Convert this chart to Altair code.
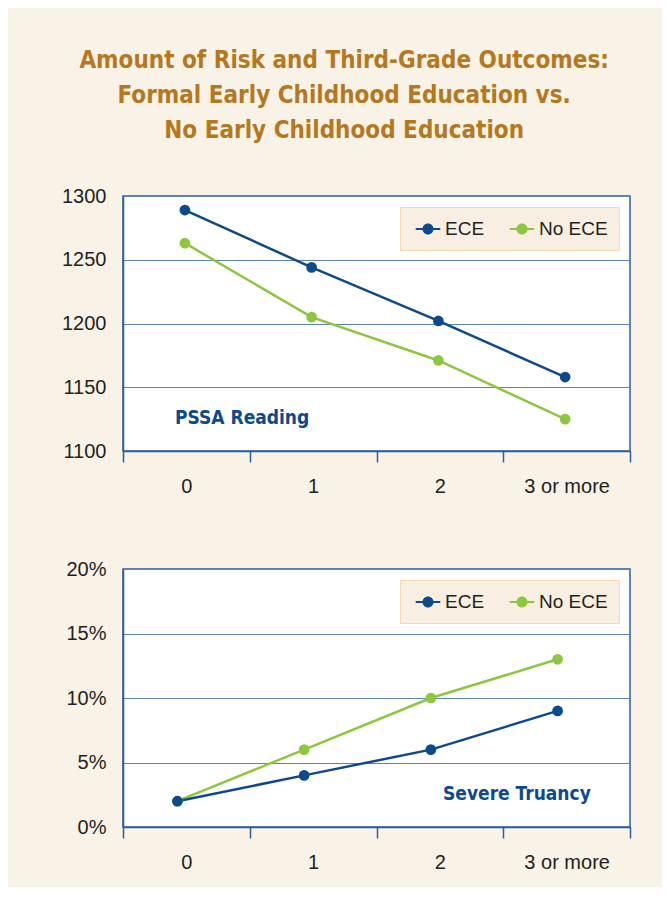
import altair as alt
import pandas as pd

categories = ["0", "1", "2", "3 or more"]
series = ["ECE", "No ECE"]
reading_ece = [1289, 1244, 1202, 1158]
reading_no_ece = [1263, 1205, 1171, 1125]
truancy_ece = [2, 4, 6, 9]
truancy_no_ece = [2, 6, 10, 13]

BLUE = "#0D4A8C"
GREEN = "#8DC63F"
AXIS_BLUE = "#2B5C9E"
GRID_BLUE = "#5A83BD"
BG = "#F9F2E7"
FONT = "Liberation Sans"
NARROW = "DejaVu Sans Condensed"


def make_df(ece, no_ece):
    rows = []
    for c, v in zip(categories, no_ece):
        rows.append({"risk": c, "series": "No ECE", "value": v})
    for c, v in zip(categories, ece):
        rows.append({"risk": c, "series": "ECE", "value": v})
    return pd.DataFrame(rows)


SYMBOL = ("M-1.12,-0.1H1.12V0.1H-1.12Z "
          "M0.5,0A0.5,0.5,0,1,1,-0.5,0A0.5,0.5,0,1,1,0.5,0Z")


def panel(df, ydomain, yvalues, label_expr, note, note_x, note_y, height, xoff):
    x = alt.X("risk:N", sort=categories,
              scale=alt.Scale(type="band", paddingInner=0, paddingOuter=0),
              axis=alt.Axis(title=None, labelAngle=0, tickBand="extent",
                            tickSize=11, tickColor=AXIS_BLUE, tickWidth=1.5,
                            domainColor=AXIS_BLUE, domainWidth=1.5,
                            labelFontSize=20, labelFont=FONT, labelColor="#231F20",
                            labelPadding=14, grid=False))
    y = alt.Y("value:Q", scale=alt.Scale(domain=ydomain, nice=False, zero=False),
              axis=alt.Axis(title=None, values=yvalues, ticks=False,
                            domainColor=AXIS_BLUE, domainWidth=1.5,
                            grid=True, gridColor=GRID_BLUE, gridWidth=1,
                            labelFontSize=20, labelFont=FONT, labelColor="#231F20",
                            labelPadding=17, labelExpr=label_expr))
    legend = alt.Legend(orient="top-right", offset=11, direction="horizontal",
                        symbolType=SYMBOL, symbolSize=484,
                        symbolStrokeWidth=0, symbolOffset=6,
                        labelFont=FONT, labelFontSize=19,
                        labelColor="#231F20", labelOffset=6,
                        columnPadding=20, padding=11,
                        fillColor="#F8EFE2", strokeColor="#F3D8B0")
    color = alt.Color("series:N", scale=alt.Scale(domain=series, range=[BLUE, GREEN]),
                      title=None, legend=legend)
    base = alt.Chart(df)
    line = base.mark_line(strokeWidth=2.5, xOffset=xoff).encode(
        x=x, y=y, color=color, detail="series:N")
    pts = base.mark_circle(size=115, opacity=1, xOffset=xoff).encode(
        x=x, y=y, color=color)
    txt = alt.Chart(pd.DataFrame({"t": [note]})).mark_text(
        font=NARROW, fontWeight="bold", fontSize=19, color=BLUE,
        align="left", baseline="middle").encode(
        text="t:N", x=alt.value(note_x), y=alt.value(note_y))
    return alt.layer(line, pts, txt).properties(width=507, height=height)


top = panel(make_df(reading_ece, reading_no_ece), [1100, 1300],
            [1100, 1150, 1200, 1250, 1300], "datum.value",
            "PSSA Reading", 52, 222, 255, -1.5)
bottom = panel(make_df(truancy_ece, truancy_no_ece), [0, 20],
               [0, 5, 10, 15, 20], "datum.value + '%'",
               "Severe Truancy", 320, 225, 258, -9)

chart = alt.vconcat(top, bottom, spacing=118, bounds="flush").properties(
    title=alt.TitleParams(
        text=["Amount of Risk and Third-Grade Outcomes:",
              "Formal Early Childhood Education vs.",
              "No Early Childhood Education"],
        font=NARROW, fontSize=24, fontWeight="bold", color="#B5781E",
        lineHeight=35, anchor="middle", dx=-2, offset=42),
    padding={"left": 52, "top": 41, "right": 30, "bottom": 14},
    background=BG,
).resolve_scale(color="independent").resolve_legend(color="independent").configure_view(
    fill="white", stroke=AXIS_BLUE, strokeWidth=1.5)

chart.save("out.html", embed_options={"renderer": "svg", "actions": False})
